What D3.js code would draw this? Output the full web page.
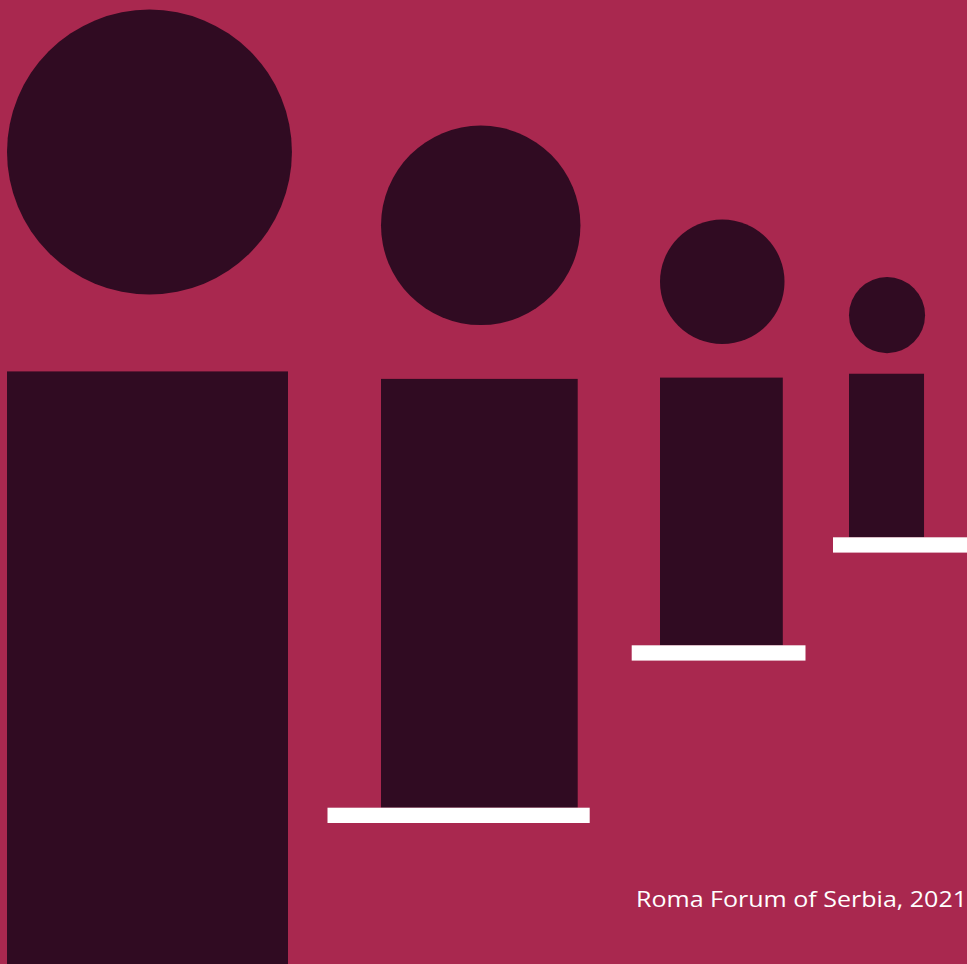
<!DOCTYPE html>
<html>
<head>
<meta charset="utf-8">
<script src="https://cdn.jsdelivr.net/npm/d3@7"></script>
<style>
  html, body { margin: 0; padding: 0; background: #a9284f; overflow: hidden; }
  svg { display: block; }
</style>
</head>
<body>
<div id="chart"></div>
<script>
// relative size of each figure (largest = 100)
const categories = ['Group A', 'Group B', 'Group C', 'Group D'];
const values = [100, 70, 43.7, 26.7];
const source = 'Roma Forum of Serbia, 2021';

const width = 967, height = 964;
const bg = '#a9284f', dark = '#300b22';

const svg = d3.select('#chart').append('svg')
    .attr('width', width)
    .attr('height', height);

svg.append('rect')
    .attr('width', width)
    .attr('height', height)
    .attr('fill', bg);

// body width from value
const wScale = d3.scaleLinear().domain([0, 100]).range([0, 281]);
// left edge of every figure and the line it stands on
const xScale = d3.scaleOrdinal().domain(categories).range([7, 381, 660, 849]);
const baseScale = d3.scaleOrdinal().domain(categories).range([984, 807.7, 645.3, 537.3]);
// white step under each figure (left / right overhang)
const stepLeft = d3.scaleOrdinal().domain(categories).range([50, 53.5, 28.3, 16]);
const stepRight = d3.scaleOrdinal().domain(categories).range([20, 12, 22.7, 60]);

const data = categories.map((c, i) => ({ cat: c, value: values[i] }));

const fig = svg.selectAll('g.figure').data(data)
    .enter().append('g')
    .attr('class', 'figure');

fig.each(function (d) {
    const g = d3.select(this);
    const w = wScale(d.value);
    const bodyH = w * 2.18;
    const r = w * 0.507;
    const x0 = xScale(d.cat);
    const base = baseScale(d.cat);
    const bodyTop = base - bodyH;
    const gap = r * 0.54;

    g.append('rect')
        .attr('x', x0)
        .attr('y', bodyTop)
        .attr('width', w)
        .attr('height', bodyH)
        .attr('fill', dark);

    g.append('circle')
        .attr('cx', x0 + r)
        .attr('cy', bodyTop - gap - r)
        .attr('r', r)
        .attr('fill', dark);

    g.append('rect')
        .attr('x', x0 - stepLeft(d.cat))
        .attr('y', base)
        .attr('width', w + stepLeft(d.cat) + stepRight(d.cat))
        .attr('height', 15.3)
        .attr('fill', '#ffffff');
});

svg.append('text')
    .attr('x', 967)
    .attr('y', 907)
    .attr('text-anchor', 'end')
    .attr('fill', '#ffffff')
    .style('font-family', "'Open Sans', sans-serif")
    .style('font-size', '22.5px')
    .attr('textLength', 331)
    .attr('lengthAdjust', 'spacingAndGlyphs')
    .text(source);
</script>
</body>
</html>
